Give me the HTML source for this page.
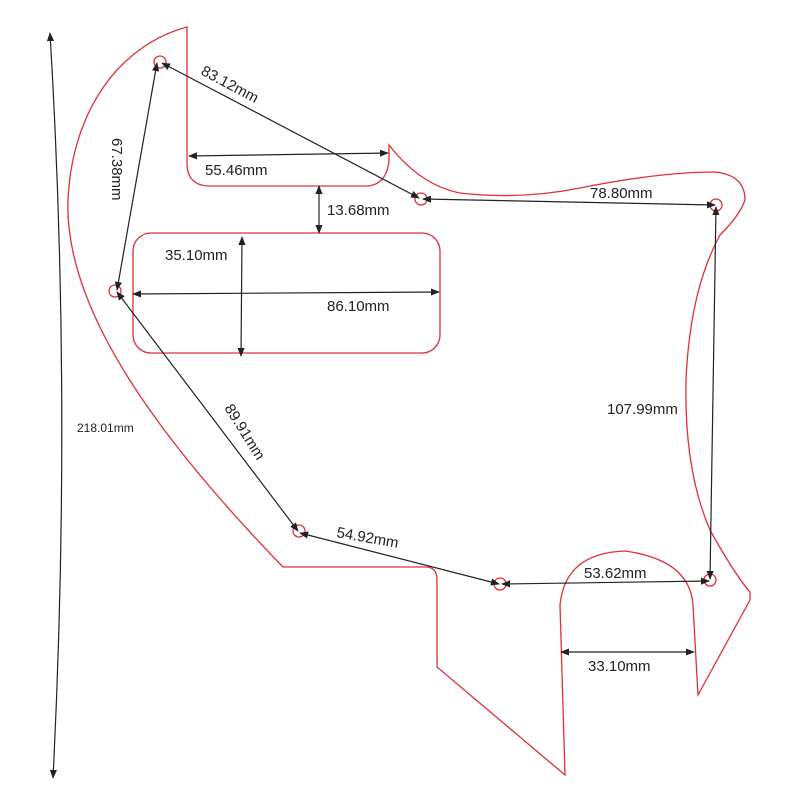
<!DOCTYPE html>
<html><head><meta charset="utf-8"><style>body{margin:0;background:#fff}svg{display:block}text{font-family:"Liberation Sans",sans-serif;font-size:15px;fill:#222}</style></head><body>
<svg width="800" height="800" viewBox="0 0 800 800" xmlns="http://www.w3.org/2000/svg">
<defs><marker id="a" viewBox="0 0 10 10" refX="9" refY="5" markerWidth="9" markerHeight="9" orient="auto-start-reverse" markerUnits="userSpaceOnUse"><path d="M0,1 L10,5 L0,9 z" fill="#222"/></marker></defs>
<g fill="none" stroke="#e0303a" stroke-width="1.3">
<path d="M187,27 L187,165 Q188,185 208,186 L368,186 Q387,184 389,160 L389,145 Q420,185 460,193 Q520,200 580,188 Q660,172 715,172 Q745,175 745,200 Q740,215 720,235 Q690,290 686,380 Q684,470 710,530 Q735,575 750,592 L750,600 L698,695 L693,605 Q690,560 625,551 Q565,553 560,605 L565,775 L437,667 L437,578 Q436,567 426,567 L283,567 C160,440 64,310 68,200 C72,110 120,45 187,27 Z"/>
<rect x="133" y="233" width="307" height="120" rx="18"/>
<circle cx="160" cy="62" r="6"/><circle cx="115" cy="291" r="6"/><circle cx="421" cy="199" r="6"/><circle cx="716" cy="205" r="6"/><circle cx="299" cy="531" r="6"/><circle cx="500" cy="584" r="6"/><circle cx="710" cy="580" r="6"/>
</g>
<g stroke="#222" stroke-width="1.2" marker-start="url(#a)" marker-end="url(#a)" fill="none">
<line x1="162" y1="63" x2="419" y2="198"/>
<line x1="157" y1="63" x2="117" y2="290"/>
<line x1="189" y1="156" x2="388" y2="153"/>
<line x1="319" y1="186" x2="319" y2="233"/>
<line x1="242" y1="237" x2="241" y2="356"/>
<line x1="133" y1="294" x2="439" y2="292"/>
<line x1="423" y1="199" x2="715" y2="205"/>
<line x1="716" y1="207" x2="710" y2="579"/>
<line x1="117" y1="292" x2="298" y2="531"/>
<line x1="300" y1="533" x2="499" y2="584"/>
<line x1="502" y1="584" x2="709" y2="581"/>
<line x1="561" y1="652" x2="694" y2="652"/>
<path d="M50,33 Q72,400 53,778"/>
</g>
<text x="200" y="74" transform="rotate(28 200 74)">83.12mm</text>
<text x="112" y="138" transform="rotate(90 112 138)">67.38mm</text>
<text x="205" y="175">55.46mm</text>
<text x="327" y="215">13.68mm</text>
<text x="165" y="260">35.10mm</text>
<text x="327" y="311">86.10mm</text>
<text x="590" y="198">78.80mm</text>
<text x="607" y="414">107.99mm</text>
<text x="224" y="408" transform="rotate(58 224 408)">89.91mm</text>
<text x="336" y="537" transform="rotate(10 336 537)">54.92mm</text>
<text x="584" y="578">53.62mm</text>
<text x="588" y="671">33.10mm</text>
<text x="77" y="432" style="font-size:12px">218.01mm</text>
</svg>
</body></html>
